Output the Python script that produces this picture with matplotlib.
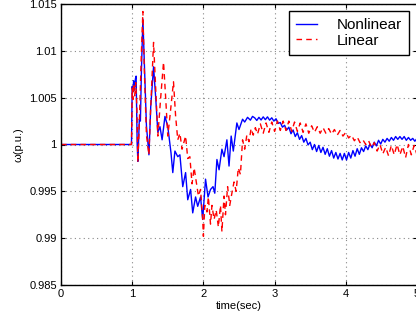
import matplotlib
matplotlib.use("Agg")
import matplotlib.pyplot as plt

plt.rcParams['font.family'] = ['Liberation Sans', 'DejaVu Sans']

# ---- Nonlinear (blue) ----
t_nl_a = [0.0, 0.99, 1.0, 1.01, 1.02, 1.03, 1.045, 1.055, 1.07, 1.08, 1.10, 1.115, 1.13, 1.15,
          1.165, 1.20, 1.235, 1.26, 1.30, 1.33, 1.36, 1.39, 1.42, 1.46, 1.50, 1.545, 1.57, 1.60,
          1.64, 1.67, 1.71, 1.75, 1.78, 1.82, 1.85, 1.89, 1.92, 1.96, 1.99, 2.03, 2.065, 2.10,
          2.135, 2.16, 2.19, 2.22, 2.26, 2.29, 2.33, 2.36, 2.39, 2.42, 2.47, 2.50, 2.55, 2.58,
          2.62, 2.66, 2.69]
w_nl_a = [1.0, 1.0, 1.0062, 1.0056, 1.0068, 1.0058, 1.0070, 1.0073, 1.0000, 0.9982, 1.0027,
          1.0025, 1.0080, 1.0134, 1.0100, 1.0020, 0.9989, 1.0040, 1.0083, 1.0050, 1.0013,
          1.0019, 1.0005, 1.0030, 1.0019, 0.9991, 0.9970, 0.9993, 0.9987, 0.9989, 0.9955,
          0.9970, 0.9941, 0.9952, 0.9927, 0.9944, 0.9934, 0.9944, 0.9920, 0.9963, 0.9944,
          0.9952, 0.9955, 0.9948, 0.9984, 0.9973, 0.9995, 0.9987, 1.0005, 0.9977, 1.0009,
          0.9993, 1.0023, 1.0016, 1.0027, 1.0024, 1.0029, 1.0026, 1.0030]
t_nl_b = [2.72, 2.75, 2.78, 2.81, 2.84, 2.87, 2.90, 2.93, 2.96, 2.99, 3.02, 3.05, 3.08, 3.11,
          3.14, 3.17, 3.20, 3.23, 3.26, 3.29, 3.32, 3.35, 3.38, 3.41, 3.44, 3.47, 3.50, 3.53,
          3.56, 3.59, 3.62, 3.65, 3.68, 3.71, 3.74, 3.77, 3.80, 3.83, 3.86, 3.89, 3.92, 3.95,
          3.98, 4.01, 4.04, 4.07, 4.10, 4.13, 4.16, 4.19, 4.22, 4.25, 4.28, 4.31, 4.34, 4.37,
          4.40, 4.43, 4.46, 4.49, 4.52, 4.55, 4.58, 4.61, 4.64, 4.67, 4.70, 4.73, 4.76, 4.79,
          4.82, 4.85, 4.88, 4.91, 4.94, 4.97, 5.00]
w_nl_b = [1.00285, 1.00257, 1.0029, 1.00262, 1.00295, 1.00265, 1.00295, 1.0026, 1.00285,
          1.0025, 1.00275, 1.00225, 1.00235, 1.00185, 1.00205, 1.00155, 1.00185, 1.00115,
          1.00155, 1.00085, 1.00125, 1.00055, 1.00095, 1.00025, 1.00065, 0.99995, 1.00025,
          0.99945, 1.0000, 0.99925, 0.9999, 0.99915, 0.9997, 0.99895, 0.99955, 0.99875,
          0.99935, 0.99855, 0.99915, 0.99845, 0.99905, 0.99835, 0.99905, 0.99835, 0.99915,
          0.99855, 0.99935, 0.99875, 0.99955, 0.99895, 0.99965, 0.99925, 0.99985, 0.99945,
          1.00005, 0.99965, 1.00025, 0.99985, 1.00045, 1.00005, 1.00055, 1.00025, 1.00065,
          1.00035, 1.00075, 1.00045, 1.00085, 1.00055, 1.00085, 1.00055, 1.00085, 1.00045,
          1.00075, 1.00045, 1.00065, 1.00035, 1.00065]

# ---- Linear (red) ----
t_li_a = [0.0, 0.99, 1.0, 1.01, 1.02, 1.035, 1.05, 1.065, 1.08, 1.10, 1.13, 1.15, 1.17, 1.20,
          1.235, 1.26, 1.30, 1.33, 1.36, 1.40, 1.44, 1.47, 1.50, 1.53, 1.58, 1.61, 1.64, 1.67,
          1.70, 1.75, 1.78, 1.81, 1.84, 1.87, 1.90, 1.93, 1.96, 1.99, 2.00, 2.02, 2.05, 2.07,
          2.10, 2.12, 2.15, 2.18, 2.21, 2.24, 2.26, 2.29, 2.31, 2.34, 2.37, 2.40, 2.43, 2.46,
          2.49, 2.52, 2.55, 2.58, 2.61, 2.64, 2.67, 2.70, 2.73]
w_li_a = [1.0, 1.0, 1.0060, 1.0048, 1.0065, 1.0052, 1.0066, 1.0040, 0.9981, 1.0023, 1.0100,
          1.0142, 1.0080, 1.0010, 0.9989, 1.0040, 1.0109, 1.0060, 1.0009, 1.0050, 1.0088,
          1.0050, 1.0009, 1.0030, 1.0067, 1.0030, 1.0005, 1.0012, 0.9995, 1.0009, 0.9985,
          0.9987, 0.9958, 0.9975, 0.9960, 0.9945, 0.9952, 0.9920, 0.9902, 0.9935, 0.9928,
          0.9944, 0.9915, 0.9935, 0.9920, 0.9930, 0.9912, 0.9935, 0.9907, 0.9945, 0.9925,
          0.9955, 0.9935, 0.9948, 0.9960, 0.9950, 0.9975, 0.9968, 1.0005, 0.9995, 1.0010,
          1.0003, 1.0017, 1.0010, 1.0018]
t_li_b = [2.76, 2.80, 2.84, 2.88, 2.92, 2.96, 3.00, 3.04, 3.08, 3.12, 3.16, 3.20, 3.24, 3.28,
          3.32, 3.36, 3.40, 3.44, 3.48, 3.52, 3.56, 3.60, 3.64, 3.68, 3.72, 3.76, 3.80, 3.84,
          3.88, 3.92, 3.96, 4.00, 4.04, 4.08, 4.12, 4.16, 4.20, 4.24, 4.28, 4.32, 4.36, 4.40,
          4.44, 4.48, 4.52, 4.56, 4.60, 4.64, 4.68, 4.72, 4.76, 4.80, 4.84, 4.88, 4.92, 4.96,
          5.00]
w_li_b = [1.0011, 1.0022, 1.0012, 1.0023, 1.0013, 1.0024, 1.0014, 1.0025, 1.0015, 1.0025,
          1.0015, 1.0025, 1.0014, 1.0024, 1.0014, 1.0023, 1.0013, 1.0022, 1.0012, 1.0020,
          1.0013, 1.0019, 1.0012, 1.0018, 1.0012, 1.0017, 1.0011, 1.0016, 1.0010, 1.0015,
          1.0009, 1.0013, 1.0007, 1.0010, 1.0004, 1.0008, 1.0002, 1.0005, 1.0000, 1.0004,
          0.9997, 1.0002, 0.9993, 1.0000, 0.9990, 0.9997, 0.9988, 0.9999, 0.9989, 1.0000,
          0.9989, 0.9998, 0.9986, 1.0000, 0.9989, 0.9999, 0.9989]

x_ticks = [0, 1, 2, 3, 4, 5]
y_ticks = [0.985, 0.99, 0.995, 1.0, 1.005, 1.01, 1.015]
y_tick_labels = ['0.985', '0.99', '0.995', '1', '1.005', '1.01', '1.015']

fig = plt.figure(figsize=(4.16, 3.25), dpi=100)
ax = fig.add_axes([61/416, 1-285/325, (417-61)/416, (285-4)/325])

ax.plot(t_nl_a + t_nl_b, w_nl_a + w_nl_b, color='#0000ff', lw=1.0, label='Nonlinear')
ax.plot(t_li_a + t_li_b, w_li_a + w_li_b, color='#ff0000', lw=1.0, ls=(0, (4, 3)), label='Linear')

ax.set_xlim(0, 5)
ax.set_ylim(0.985, 1.015)
ax.set_xticks(x_ticks)
ax.set_xticklabels([str(v) for v in x_ticks])
ax.set_yticks(y_ticks)
ax.set_yticklabels(y_tick_labels)
ax.tick_params(direction='in', top=True, right=True, labelsize=8, length=3, pad=3)
ax.grid(True, color='#888888', ls=(0, (1, 3)), lw=0.8)
for s in ax.spines.values():
    s.set_linewidth(1.0)
ax.set_xlabel('time(sec)', fontsize=8, labelpad=1)
ax.set_ylabel('ω(p.u.)', fontsize=8, labelpad=4)

leg = ax.legend(loc='upper right', bbox_to_anchor=(409/416, 1-11/325),
                bbox_transform=fig.transFigure, borderaxespad=0, fontsize=11,
                fancybox=False, framealpha=1, edgecolor='black', handlelength=1.4,
                borderpad=0.45, labelspacing=0.12, handletextpad=1.3)
leg.get_frame().set_linewidth(1.0)

fig.savefig('out.png', dpi=100)
